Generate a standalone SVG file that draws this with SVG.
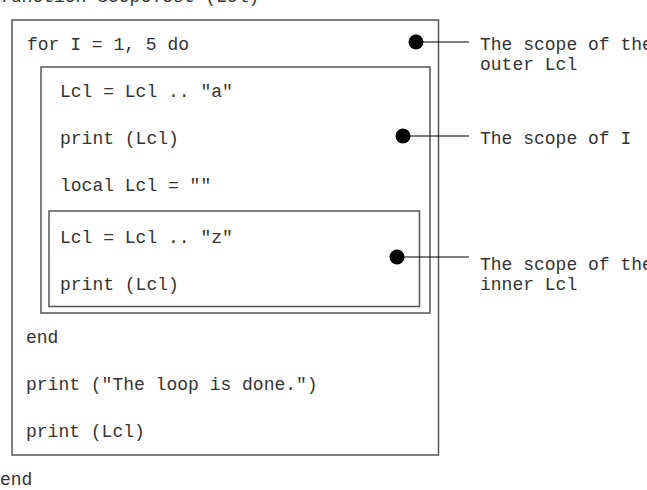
<svg xmlns="http://www.w3.org/2000/svg" width="647" height="490" viewBox="0 0 647 490">
<style>
text{font-family:"Liberation Mono","Courier New",monospace;font-size:18px;fill:#333}
.box{fill:none;stroke:#555;stroke-width:1.5}
.conn line{stroke:#000;stroke-width:1.2}
.dot{fill:#000}
</style>
<rect width="647" height="490" fill="#fff"/>
<text x="0" y="2">function ScopeTest (Lcl)</text>
<g id="outer">
<rect class="box" x="12" y="20" width="426.5" height="435"/>
<text x="27" y="50">for I = 1, 5 do</text>
<text x="26" y="343">end</text>
<text x="26" y="390">print ("The loop is done.")</text>
<text x="26" y="437">print (Lcl)</text>
</g>
<g id="middle">
<rect class="box" x="41" y="67" width="389" height="246"/>
<text x="60" y="97">Lcl = Lcl .. "a"</text>
<text x="60" y="144">print (Lcl)</text>
<text x="60" y="191">local Lcl = ""</text>
</g>
<g id="inner">
<rect class="box" x="49" y="211" width="370.5" height="95.5"/>
<text x="60" y="243">Lcl = Lcl .. "z"</text>
<text x="60" y="290">print (Lcl)</text>
</g>
<g id="label-outer">
<text x="480" y="50">The scope of the</text>
<text x="480" y="70">outer Lcl</text>
</g>
<g id="label-i">
<text x="480" y="144">The scope of I</text>
</g>
<g id="label-inner">
<text x="480" y="270">The scope of the</text>
<text x="480" y="290">inner Lcl</text>
</g>
<g class="conn">
<line x1="416" y1="42" x2="469" y2="42"/>
<line x1="403" y1="136" x2="469" y2="136"/>
<line x1="397" y1="257" x2="469" y2="257"/>
<circle class="dot" cx="416" cy="42" r="7.5"/>
<circle class="dot" cx="403" cy="136" r="7.5"/>
<circle class="dot" cx="397" cy="257" r="7.5"/>
</g>
<text x="0" y="485">end</text>
</svg>
